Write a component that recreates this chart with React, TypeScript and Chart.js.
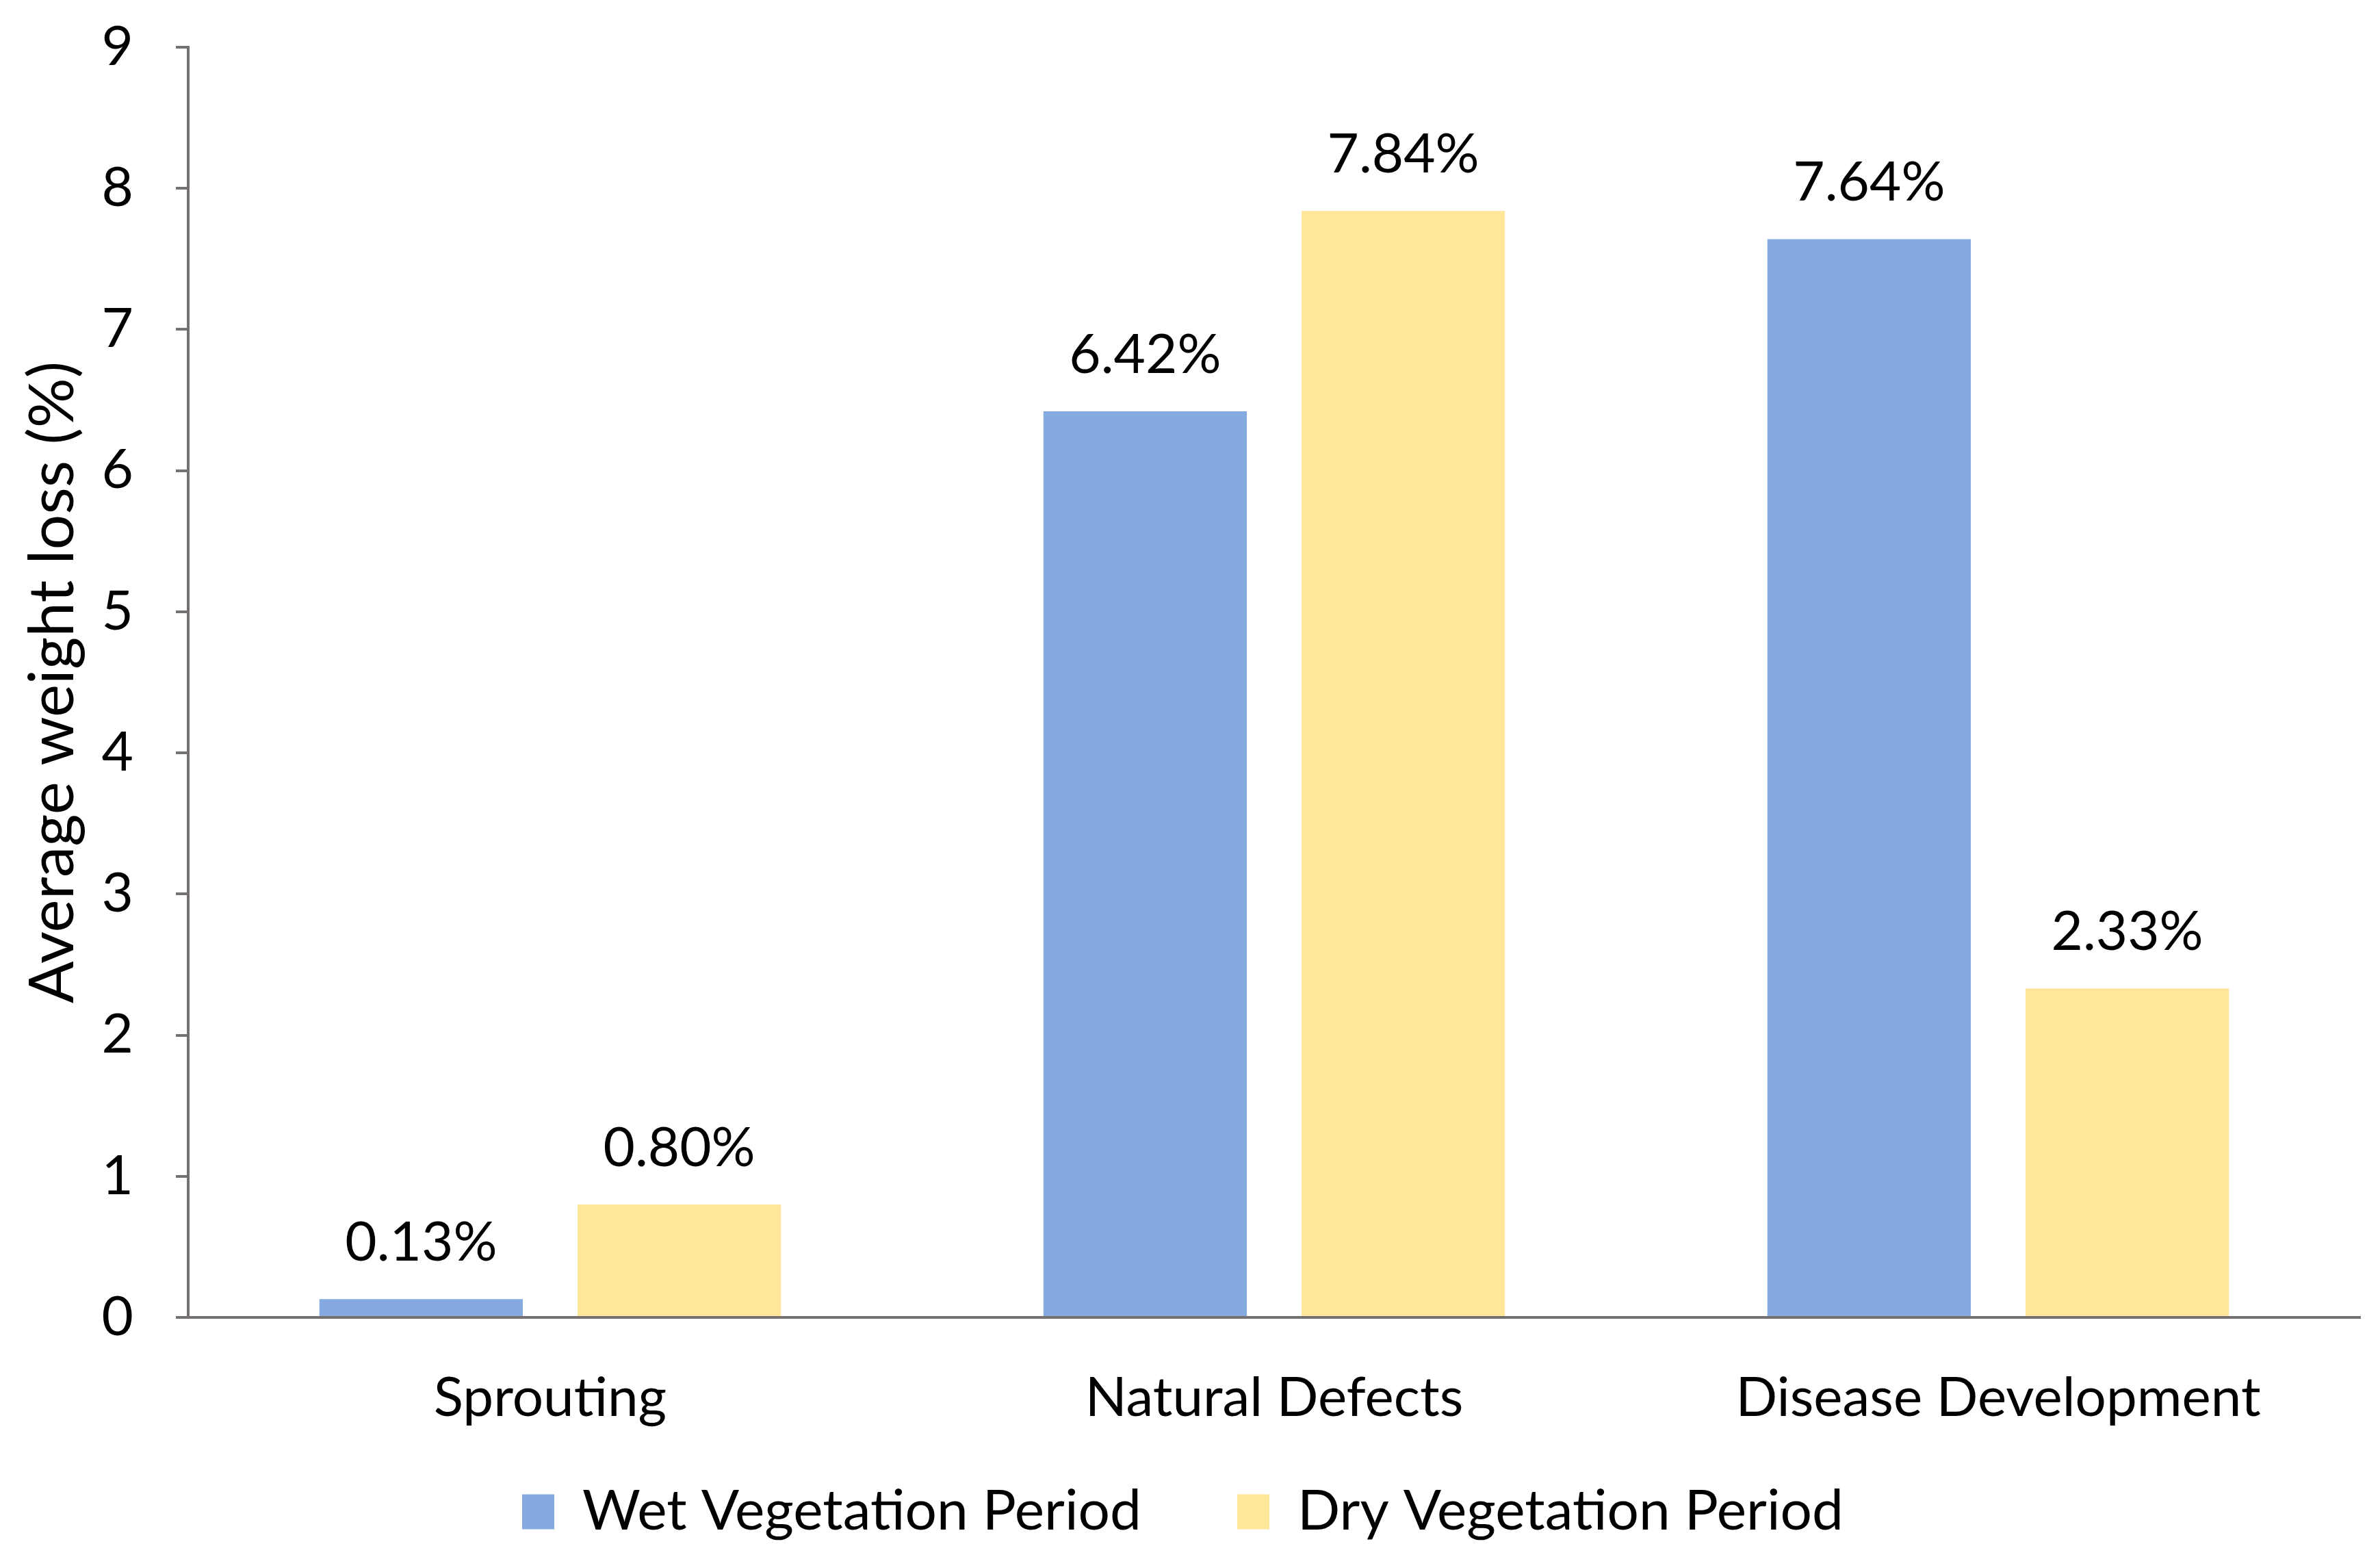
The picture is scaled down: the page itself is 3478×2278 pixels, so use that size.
import React, { useEffect, useRef } from "react";
import { Chart, registerables } from "chart.js";

Chart.register(...registerables);

// ---- data ----
const categories = ["Sprouting", "Natural Defects", "Disease Development"];
const seriesNames = ["Wet Vegetation Period", "Dry Vegetation Period"];
const wetValues = [0.13, 6.42, 7.64];
const dryValues = [0.8, 7.84, 2.33];
const yMin = 0;
const yMax = 9;
const yStep = 1;
const yTitle = "Average weight loss (%)";

// ---- style / layout ----
const FONT = "Lato, Carlito, 'Noto Sans', sans-serif";
const TEXT_SIZE = 80;
const LEGEND_SIZE = 82;
const TITLE_SIZE = 91;
const AXIS_COLOR = "#767171";
const WET_COLOR = "#84AADF";
const DRY_COLOR = "#FFE699";
const X_AXIS_HEIGHT = 170;
const LEGEND_HEIGHT = 175;
const LEGEND_PAD = 140;
const LEGEND_CENTER_Y = 2201;

const barLabels = {
  id: "barLabels",
  afterDatasetsDraw(chart: any) {
    const ctx = chart.ctx;
    ctx.save();
    ctx.font = `${TEXT_SIZE}px ${FONT}`;
    ctx.fillStyle = "#000";
    ctx.textAlign = "center";
    ctx.textBaseline = "middle";
    chart.data.datasets.forEach((ds: any, i: number) => {
      const meta = chart.getDatasetMeta(i);
      meta.data.forEach((bar: any, j: number) => {
        ctx.fillText(Number(ds.data[j]).toFixed(2) + "%", bar.x, bar.y - 82);
      });
    });
    ctx.restore();
  },
};

const legendFit = {
  id: "legendFit",
  beforeLayout(chart: any) {
    const lg = chart.legend;
    if (lg && !lg.__fixed) {
      const orig = lg.fit.bind(lg);
      lg.fit = function () {
        orig();
        this.height = LEGEND_HEIGHT;
      };
      lg.__fixed = true;
    }
  },
  afterLayout(chart: any) {
    const lg = chart.legend;
    if (lg) {
      const top = LEGEND_CENTER_Y - LEGEND_PAD - LEGEND_SIZE / 2;
      lg.top = top;
      lg.bottom = chart.height;
      lg.height = lg.bottom - top;
    }
  },
};

export default function App() {
  const ref = useRef<HTMLCanvasElement | null>(null);

  useEffect(() => {
    if (!ref.current) return;
    const chart = new Chart(ref.current, {
      type: "bar",
      data: {
        labels: categories,
        datasets: [
          {
            label: seriesNames[0],
            data: wetValues,
            backgroundColor: WET_COLOR,
            borderWidth: 0,
            categoryPercentage: 0.713,
            barPercentage: 0.788,
          },
          {
            label: seriesNames[1],
            data: dryValues,
            backgroundColor: DRY_COLOR,
            borderWidth: 0,
            categoryPercentage: 0.713,
            barPercentage: 0.788,
          },
        ],
      },
      options: {
        animation: false,
        responsive: true,
        maintainAspectRatio: false,
        layout: { padding: { top: 61, right: 21, bottom: 0, left: 0 } },
        plugins: {
          tooltip: { enabled: false },
          legend: {
            position: "bottom",
            labels: {
              boxWidth: 47,
              boxHeight: 51,
              padding: LEGEND_PAD,
              color: "#000",
              font: { family: FONT, size: LEGEND_SIZE },
            },
          },
        },
        scales: {
          x: {
            grid: { display: false },
            border: { display: true, color: AXIS_COLOR, width: 4 },
            ticks: {
              color: "#000",
              padding: 62,
              maxRotation: 0,
              autoSkip: false,
              font: { family: FONT, size: TEXT_SIZE },
            },
            afterFit: (scale: any) => {
              scale.height = X_AXIS_HEIGHT;
            },
          },
          y: {
            min: yMin,
            max: yMax,
            grid: {
              drawOnChartArea: false,
              drawTicks: true,
              tickLength: 18,
              color: AXIS_COLOR,
              lineWidth: 4,
            },
            border: { display: true, color: AXIS_COLOR, width: 4 },
            ticks: {
              stepSize: yStep,
              color: "#000",
              padding: 62,
              font: { family: FONT, size: TEXT_SIZE },
            },
            title: {
              display: true,
              text: yTitle,
              color: "#000",
              padding: { top: 15, bottom: 0 },
              font: { family: FONT, size: TITLE_SIZE },
            },
            afterFit: (scale: any) => {
              scale.width = 267;
              scale.paddingTop = 0;
              scale.paddingBottom = 0;
            },
          },
        },
      },
      plugins: [barLabels, legendFit],
    });
    return () => chart.destroy();
  }, []);

  return (
    <div style={{ width: "3462px", height: "2262px", position: "relative", background: "#fff" }}>
      <canvas ref={ref} />
    </div>
  );
}
